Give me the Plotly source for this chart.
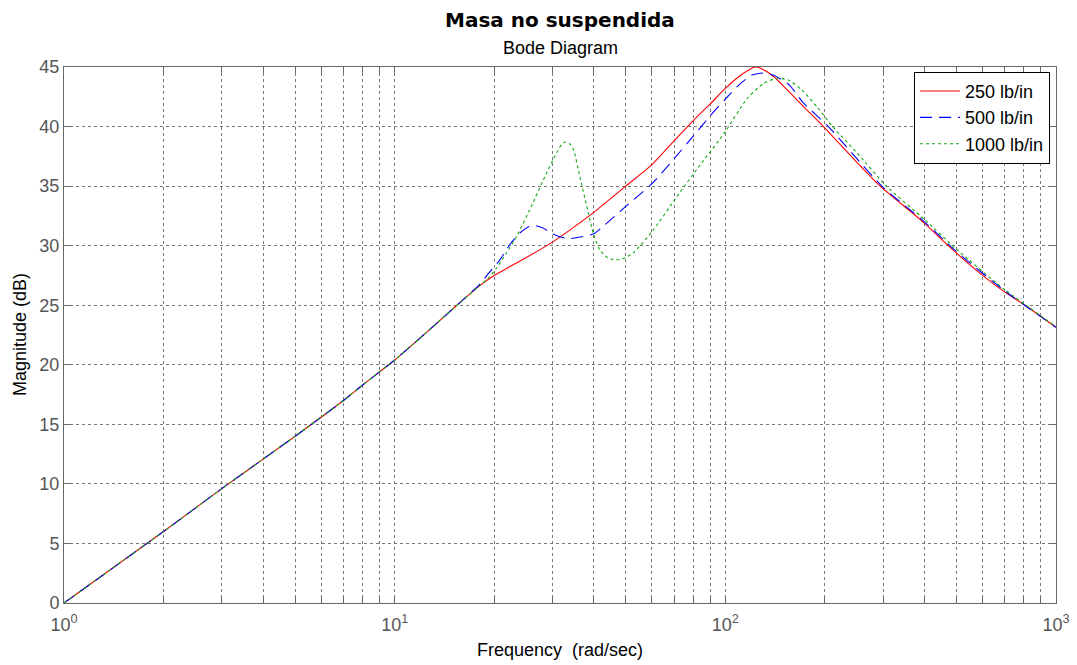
import plotly.graph_objects as go

# ---- data ----
w_250 = [1, 2, 3, 5, 7, 8, 10, 12, 15, 18, 20, 25, 30, 35, 40, 50, 60, 70, 80, 90, 100,
         110, 117, 123, 130, 140, 150, 172, 198, 250, 294, 400, 472, 600, 700, 805, 1000]
m_250 = [0, 6.0, 9.6, 14.0, 17.0, 18.3, 20.4, 22.3, 24.7, 26.6, 27.5, 29.0, 30.3, 31.6, 32.8,
         35.0, 36.8, 38.8, 40.5, 41.9, 43.2, 44.2, 44.7, 45.0, 44.8, 44.2, 43.4, 41.7, 40.0,
         37.0, 35.0, 31.9, 30.0, 27.5, 26.1, 25.0, 23.15]

w_500 = [1, 2, 3, 5, 7, 8, 10, 12, 15, 18, 19.4, 20.8, 22.3, 24, 25.5, 26.5, 28, 30, 32, 34,
         36, 40, 43, 50, 60, 70, 80, 90, 100, 110, 120, 130, 140, 156, 172, 205, 250, 300,
         400, 500, 700, 1000]
m_500 = [0, 6.0, 9.6, 14.0, 17.0, 18.3, 20.4, 22.3, 24.7, 26.7, 27.8, 28.8, 30.1, 31.1, 31.6,
         31.7, 31.5, 31.0, 30.7, 30.6, 30.7, 31.0, 31.7, 33.3, 35.2, 37.3, 39.2, 40.9, 42.3,
         43.5, 44.3, 44.5, 44.3, 43.5, 42.0, 40.0, 37.3, 34.9, 32.0, 29.5, 26.2, 23.15]

w_1000 = [1, 2, 3, 5, 7, 8, 10, 12, 15, 18, 19.4, 20.3, 21.8, 23.4, 26.2, 28.8, 30.9, 32, 32.9,
          34, 34.8, 36.3, 38.1, 39.9, 41.8, 44, 46.4, 49, 52.7, 60.5, 71.3, 84, 99, 116, 130,
          143, 155, 170, 190, 211, 250, 307, 400, 500, 700, 1000]
m_1000 = [0, 6.0, 9.6, 14.0, 17.0, 18.3, 20.4, 22.3, 24.7, 26.6, 27.4, 28.1, 29.4, 30.8, 33.6,
          36.1, 37.8, 38.5, 38.7, 38.5, 38.0, 35.8, 33.3, 31.0, 29.6, 29.0, 28.8, 28.9, 29.4,
          31.3, 34.1, 36.8, 39.4, 42.3, 43.6, 44.05, 43.9, 43.1, 41.6, 40.0, 37.8, 35.0, 32.2,
          29.7, 26.3, 23.2]

series_names = ["250 lb/in", "500 lb/in", "1000 lb/in"]

x_tickvals = [m * 10 ** e for e in range(0, 3) for m in range(1, 10)] + [1000]
x_ticktext = [("10<sup>%d</sup>" % e if m == 1 else "") for e in range(0, 3) for m in range(1, 10)] + ["10<sup>3</sup>"]
y_tickvals = [0, 5, 10, 15, 20, 25, 30, 35, 40, 45]

FONT = "Liberation Sans, Arial, sans-serif"

fig = go.Figure()
fig.add_trace(go.Scatter(x=w_250, y=m_250, name=series_names[0], mode="lines",
                         line=dict(color="#ff0000", width=1.1, shape="spline", smoothing=0.6)))
fig.add_trace(go.Scatter(x=w_500, y=m_500, name=series_names[1], mode="lines",
                         line=dict(color="#0000ff", width=1.1, dash="12px,7px", shape="spline", smoothing=0.6)))
fig.add_trace(go.Scatter(x=w_1000, y=m_1000, name=series_names[2], mode="lines",
                         line=dict(color="#10a810", width=1.1, dash="3px,3px", shape="spline", smoothing=0.6)))

axis_common = dict(
    showline=True, linecolor="#666666", linewidth=1, mirror="allticks",
    ticks="inside", ticklen=6, tickcolor="#666666",
    showgrid=True, gridcolor="#777777", gridwidth=1, griddash="3px,3px",
    zeroline=False,
    tickfont=dict(family=FONT, size=18, color="#555555"),
)

fig.update_xaxes(type="log", range=[0, 3], tickmode="array", tickvals=x_tickvals,
                 ticktext=x_ticktext, ticklabelstandoff=5, **axis_common)
fig.update_yaxes(range=[0, 45], tickmode="array", tickvals=y_tickvals, **axis_common)

fig.update_layout(
    width=1077, height=665,
    margin=dict(l=64, r=21, t=67, b=62, autoexpand=False),
    paper_bgcolor="white", plot_bgcolor="white",
    font=dict(family=FONT, size=18, color="black"),
    showlegend=True,
    legend=dict(x=0.994, y=0.991, xanchor="right", yanchor="top",
                bgcolor="white", bordercolor="black", borderwidth=1,
                font=dict(family=FONT, size=18, color="black"),
                tracegroupgap=0, itemwidth=40),
    annotations=[
        dict(text="<b>Masa no suspendida</b>", xref="paper", yref="paper", x=0.5, y=1,
             xanchor="center", yanchor="middle", yshift=47, showarrow=False,
             font=dict(family="DejaVu Sans", size=20, color="black")),
        dict(text="Bode Diagram", xref="paper", yref="paper", x=0.5, y=1,
             xanchor="center", yanchor="middle", yshift=19, showarrow=False,
             font=dict(family=FONT, size=18, color="black")),
        dict(text="Frequency \u00a0(rad/sec)", xref="paper", yref="paper", x=0.5, y=0,
             xanchor="center", yanchor="middle", yshift=-47, showarrow=False,
             font=dict(family=FONT, size=18, color="black")),
        dict(text="Magnitude (dB)", xref="paper", yref="paper", x=0, y=0.5,
             xanchor="center", yanchor="middle", xshift=-44, textangle=-90, showarrow=False,
             font=dict(family=FONT, size=18, color="black")),
    ],
)

fig.write_html("out.html", config={"displayModeBar": False},
               post_script="document.body.style.margin='0';")
